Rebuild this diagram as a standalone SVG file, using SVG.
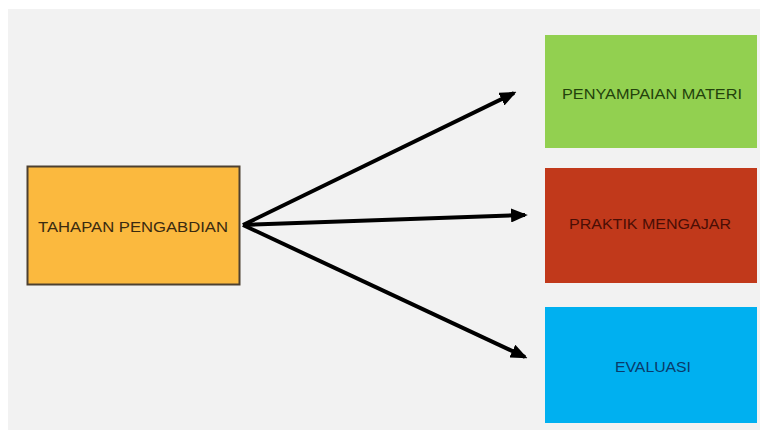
<svg xmlns="http://www.w3.org/2000/svg" width="771" height="439" viewBox="0 0 771 439">
<defs>
<style>
.lbl{font-family:"Liberation Sans",Arial,sans-serif;font-size:15px;text-anchor:middle;dominant-baseline:central;lengthAdjust:spacingAndGlyphs}
.conn{stroke:#000;stroke-width:4;fill:none;marker-end:url(#ah)}
</style>
<marker id="ah" viewBox="0 0 12 10" refX="10" refY="5" markerWidth="4.2" markerHeight="3.5" orient="auto" markerUnits="strokeWidth">
<path d="M0,0 L12,5 L0,10 Z" fill="#000"/>
</marker>
</defs>
<rect x="0" y="0" width="771" height="439" fill="#ffffff"/>
<rect x="8" y="9" width="752" height="421" fill="#f2f2f2"/>
<g id="connectors">
<line class="conn" x1="243" y1="225" x2="514" y2="93"/>
<line class="conn" x1="243" y1="225" x2="525" y2="215"/>
<line class="conn" x1="243" y1="225" x2="525" y2="357"/>
</g>
<g id="node-tahapan">
<rect x="27.5" y="166.5" width="212" height="118" fill="#fbb93e" stroke="#4d4030" stroke-width="2"/>
<text class="lbl" x="133" y="226" fill="#3a2a10" textLength="190" lengthAdjust="spacingAndGlyphs">TAHAPAN PENGABDIAN</text>
</g>
<g id="node-penyampaian">
<rect x="545" y="35" width="212" height="113" fill="#92d050"/>
<text class="lbl" x="652" y="93" fill="#23420c" textLength="180" lengthAdjust="spacingAndGlyphs">PENYAMPAIAN MATERI</text>
</g>
<g id="node-praktik">
<rect x="545" y="168" width="212" height="115" fill="#c1391b"/>
<text class="lbl" x="650" y="223" fill="#4a0e05" textLength="162" lengthAdjust="spacingAndGlyphs">PRAKTIK MENGAJAR</text>
</g>
<g id="node-evaluasi">
<rect x="545" y="307" width="212" height="116" fill="#00b0f0"/>
<text class="lbl" x="653" y="366" fill="#0a3a6a" textLength="76" lengthAdjust="spacingAndGlyphs">EVALUASI</text>
</g>
</svg>
